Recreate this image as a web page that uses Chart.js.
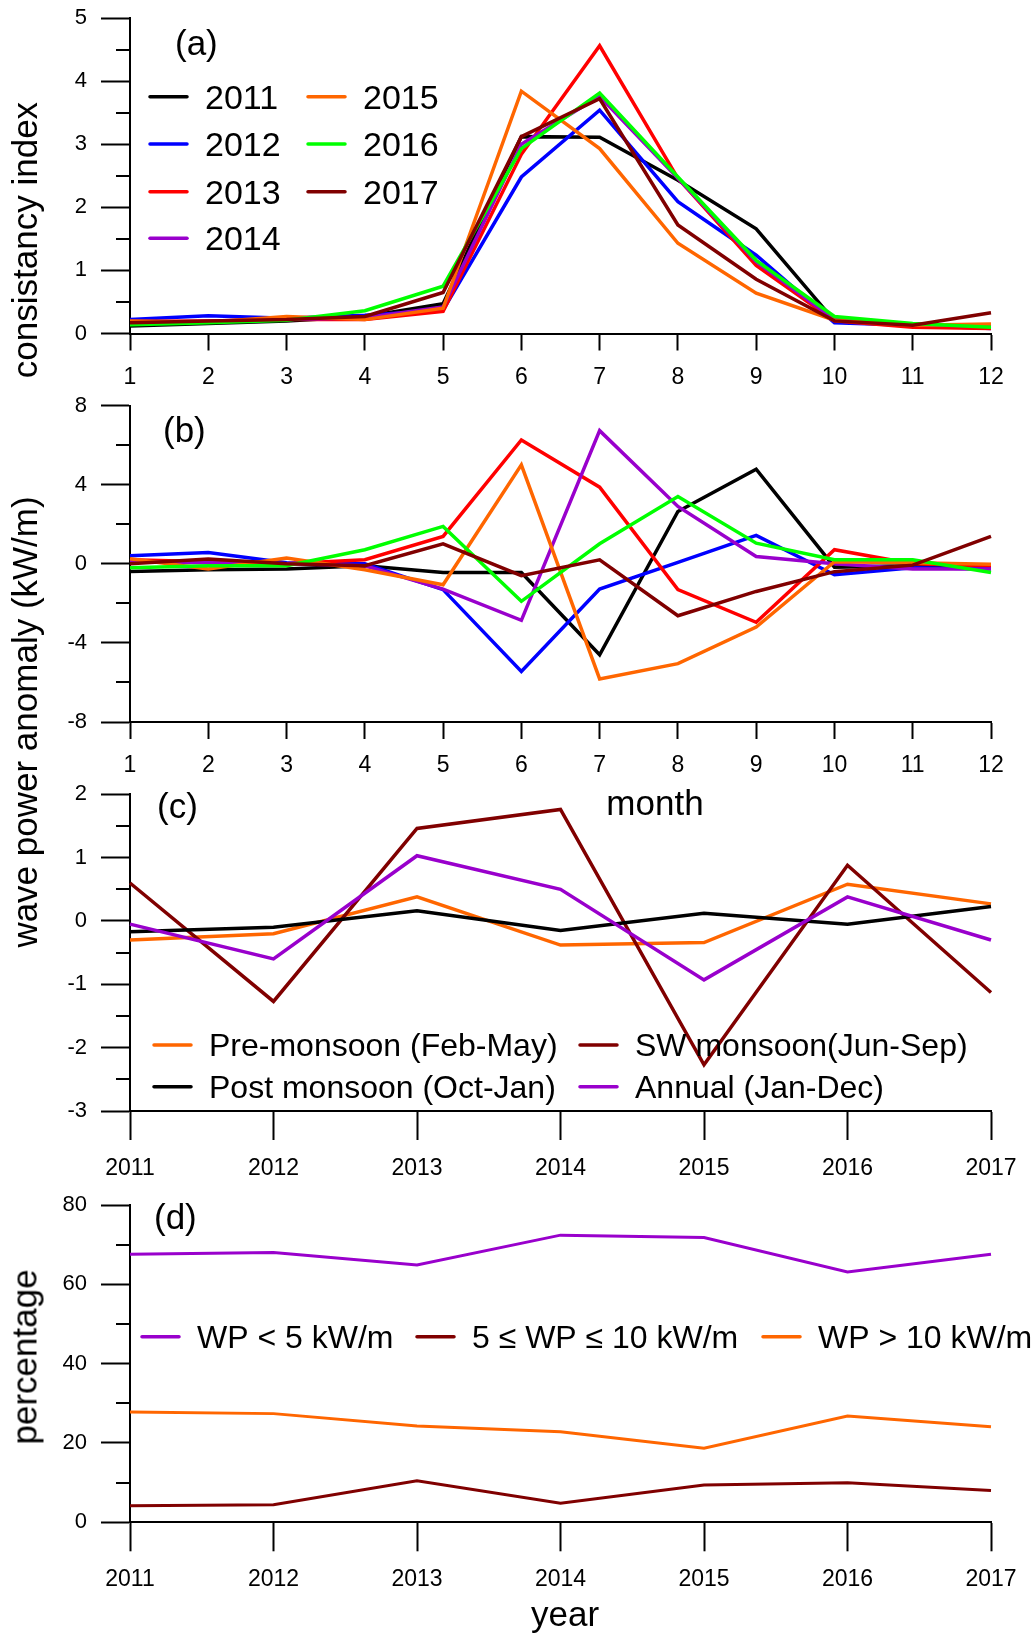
<!DOCTYPE html>
<html>
<head>
<meta charset="utf-8">
<title>Consistency index and wave power anomaly</title>
<script src="https://cdn.jsdelivr.net/npm/chart.js@4.4.1/dist/chart.umd.min.js"></script>
<style>
    body { margin: 0; background: #fff; }
    #page { position: relative; width: 1036px; height: 1635px; overflow: hidden; font-family: 'Liberation Sans', Arial, sans-serif; }
    #page canvas { position: absolute; left: 0; }
    .axis-title { position: absolute; font-size: 35px; line-height: 1; white-space: nowrap; color: #000; }
    .axis-title.vertical { transform: translate(-50%, -50%) rotate(-90deg); }
    .axis-title.centered { transform: translateX(-50%); }
</style>
</head>
<body>
<div id="page">
    <canvas id="panelA" width="1036" height="400"></canvas>
    <canvas id="panelB" width="1036" height="390"></canvas>
    <canvas id="panelC" width="1036" height="400"></canvas>
    <canvas id="panelD" width="1036" height="450"></canvas>
    <div class="axis-title vertical" style="left:24px; top:240px;">consistancy index</div>
    <div class="axis-title vertical" style="left:24px; top:722px;">wave power anomaly (kW/m)</div>
    <div class="axis-title vertical" style="left:24px; top:1357px;">percentage</div>
    <div class="axis-title centered" style="left:655px; top:785px;">month</div>
    <div class="axis-title centered" style="left:565px; top:1596px;">year</div>
</div>
<script>
// tick labels
const months = ['1', '2', '3', '4', '5', '6', '7', '8', '9', '10', '11', '12'];
const years = ['2011', '2012', '2013', '2014', '2015', '2016', '2017'];

// (a) consistancy index per month
const ci2011 = [0.12, 0.16, 0.20, 0.27, 0.47, 3.12, 3.11, 2.43, 1.66, 0.20, 0.12, 0.10];
const ci2012 = [0.22, 0.28, 0.24, 0.29, 0.37, 2.48, 3.54, 2.09, 1.24, 0.17, 0.13, 0.08];
const ci2013 = [0.19, 0.20, 0.22, 0.22, 0.35, 2.84, 4.56, 2.46, 1.08, 0.20, 0.10, 0.08];
const ci2014 = [0.17, 0.19, 0.22, 0.25, 0.42, 3.00, 3.76, 2.46, 1.14, 0.22, 0.14, 0.12];
const ci2015 = [0.20, 0.18, 0.27, 0.22, 0.40, 3.84, 2.93, 1.43, 0.64, 0.21, 0.13, 0.15];
const ci2016 = [0.14, 0.17, 0.21, 0.36, 0.75, 2.93, 3.81, 2.48, 1.16, 0.27, 0.16, 0.10];
const ci2017 = [0.17, 0.20, 0.22, 0.27, 0.65, 3.12, 3.72, 1.72, 0.86, 0.20, 0.13, 0.33];

// (b) monthly wave power anomaly (kW/m)
const wa2011 = [-0.39, -0.30, -0.27, -0.10, -0.44, -0.44, -4.60, 2.64, 4.78, -0.17, -0.10, -0.20];
const wa2012 = [0.40, 0.57, 0.05, 0.00, -1.31, -5.44, -1.28, 0.07, 1.43, -0.56, -0.20, -0.25];
const wa2013 = [0.20, 0.10, 0.00, 0.20, 1.38, 6.26, 3.87, -1.31, -2.96, 0.71, 0.00, -0.10];
const wa2014 = [0.10, 0.05, 0.00, -0.10, -1.28, -2.86, 6.73, 2.90, 0.37, 0.00, -0.27, -0.27];
const wa2015 = [0.25, -0.27, 0.29, -0.30, -1.06, 5.00, -5.82, -5.05, -3.20, 0.10, 0.05, -0.03];
const wa2016 = [-0.20, -0.10, -0.10, 0.71, 1.89, -1.90, 1.01, 3.40, 1.04, 0.20, 0.20, -0.44];
const wa2017 = [0.00, 0.24, 0.00, -0.10, 1.01, -0.60, 0.20, -2.63, -1.40, -0.40, -0.07, 1.38];

// (c) seasonal wave power anomaly (kW/m)
const preMonsoon = [-0.30, -0.20, 0.38, -0.38, -0.34, 0.58, 0.27];
const swMonsoon = [0.60, -1.27, 1.46, 1.76, -2.27, 0.88, -1.13];
const postMonsoon = [-0.17, -0.10, 0.16, -0.15, 0.12, -0.05, 0.23];
const annual = [-0.05, -0.60, 1.03, 0.50, -0.93, 0.38, -0.30];

// (d) percentage of time per wave power class
const wpLow = [67.6, 68.0, 64.9, 72.4, 71.8, 63.1, 67.6];
const wpMid = [4.2, 4.4, 10.5, 4.8, 9.4, 10.0, 8.0];
const wpHigh = [27.8, 27.4, 24.3, 22.8, 18.7, 26.8, 24.1];

const BLACK = '#000000', BLUE = '#0000ff', RED = '#ff0000', PURPLE = '#9900cc';
const ORANGE = '#ff6600', GREEN = '#00ff00', MAROON = '#800000';

Chart.defaults.font.family = "'Liberation Sans', Arial, sans-serif";
Chart.defaults.color = '#000';

const AREA_LEFT = 130;
const AREA_RIGHT = 991;
const PAGE_WIDTH = 1036;

// minor y ticks, panel letter and the legend, drawn over each chart
const panelDecor = {
    id: 'panelDecor',
    afterDraw(chart, args, opts) {
        const ctx = chart.ctx;
        const yScale = chart.scales.y;
        const area = chart.chartArea;
        const major = yScale.options.ticks.stepSize;
        ctx.save();
        ctx.strokeStyle = '#000';
        ctx.lineWidth = 2;
        for (let v = yScale.min + major / 2; v < yScale.max; v += major) {
            const py = Math.round(yScale.getPixelForValue(v));
            ctx.beginPath();
            ctx.moveTo(area.left - 14, py);
            ctx.lineTo(area.left, py);
            ctx.stroke();
        }

        ctx.fillStyle = '#000';
        ctx.textAlign = 'left';
        ctx.textBaseline = 'alphabetic';
        ctx.font = "35px 'Liberation Sans', Arial, sans-serif";
        ctx.fillText(opts.letter, opts.letterX, opts.letterY - opts.offsetY + 9);

        ctx.font = opts.legendSize + "px 'Liberation Sans', Arial, sans-serif";
        ctx.lineCap = 'round';
        chart.data.datasets.forEach((ds, i) => {
            const pos = opts.legend[i];
            if (!pos) return;
            const y = pos.y - opts.offsetY;
            ctx.strokeStyle = ds.borderColor;
            ctx.lineWidth = 3.5;
            ctx.beginPath();
            ctx.moveTo(pos.x + 2, y);
            ctx.lineTo(pos.x + 39, y);
            ctx.stroke();
            ctx.fillText(ds.label, pos.x + 57, y + opts.legendSize * 0.358);
        });
        ctx.restore();
    }
};

function makePanel(p, labels, series, yOpts, decor) {
    const canvas = document.getElementById(p.id);
    canvas.style.top = p.top + 'px';
    decor.offsetY = p.top;
    return new Chart(canvas, {
        type: 'line',
        data: {
            labels: labels,
            datasets: series.map((s, i) => ({
                label: s.label,
                data: s.data,
                borderColor: s.color,
                backgroundColor: s.color,
                borderWidth: p.lineWidth,
                pointRadius: 0,
                tension: 0,
                fill: false,
                order: series.length - i
            }))
        },
        options: {
            responsive: false,
            animation: false,
            events: [],
            layout: { padding: { top: p.areaTop - p.top, right: PAGE_WIDTH - AREA_RIGHT, bottom: 0, left: 0 } },
            plugins: {
                legend: { display: false },
                tooltip: { enabled: false },
                panelDecor: decor
            },
            scales: {
                x: {
                    grid: { drawOnChartArea: false, tickLength: p.xTick, tickWidth: 2, tickColor: '#000' },
                    border: { display: true, color: '#000', width: 2 },
                    ticks: { font: { size: 23 }, padding: p.xPad, maxRotation: 0, autoSkip: false },
                    afterFit: s => {
                        s.height = p.height - (p.areaBottom - p.top);
                        s.paddingLeft = 0;
                        s.paddingRight = 0;
                    }
                },
                y: {
                    min: yOpts.min,
                    max: yOpts.max,
                    grid: { drawOnChartArea: false, tickLength: 29, tickWidth: 2, tickColor: '#000' },
                    border: { display: true, color: '#000', width: 2 },
                    ticks: { stepSize: yOpts.step, font: { size: 22 }, padding: 14 },
                    afterFit: s => {
                        s.width = AREA_LEFT;
                        s.paddingTop = 0;
                        s.paddingBottom = 0;
                    }
                }
            }
        },
        plugins: [panelDecor]
    });
}

document.addEventListener('DOMContentLoaded', function() {
    // (a)
    makePanel(
        { id: 'panelA', top: 0, height: 400, areaTop: 18, areaBottom: 333.5, xTick: 17, xPad: 13, lineWidth: 3.5 },
        months,
        [
            { label: '2011', data: ci2011, color: BLACK },
            { label: '2012', data: ci2012, color: BLUE },
            { label: '2013', data: ci2013, color: RED },
            { label: '2014', data: ci2014, color: PURPLE },
            { label: '2015', data: ci2015, color: ORANGE },
            { label: '2016', data: ci2016, color: GREEN },
            { label: '2017', data: ci2017, color: MAROON }
        ],
        { min: 0, max: 5, step: 1 },
        {
            letter: '(a)', letterX: 175, letterY: 46, legendSize: 34,
            legend: [
                { x: 148, y: 96.7 }, { x: 148, y: 144 }, { x: 148, y: 191.7 }, { x: 148, y: 238.3 },
                { x: 306, y: 96.7 }, { x: 306, y: 144 }, { x: 306, y: 191.7 }
            ]
        }
    );

    // (b)
    makePanel(
        { id: 'panelB', top: 390, height: 390, areaTop: 405.5, areaBottom: 722, xTick: 17, xPad: 13, lineWidth: 3.5 },
        months,
        [
            { label: '2011', data: wa2011, color: BLACK },
            { label: '2012', data: wa2012, color: BLUE },
            { label: '2013', data: wa2013, color: RED },
            { label: '2014', data: wa2014, color: PURPLE },
            { label: '2015', data: wa2015, color: ORANGE },
            { label: '2016', data: wa2016, color: GREEN },
            { label: '2017', data: wa2017, color: MAROON }
        ],
        { min: -8, max: 8, step: 4 },
        { letter: '(b)', letterX: 163, letterY: 433, legendSize: 34, legend: [] }
    );

    // (c)
    makePanel(
        { id: 'panelC', top: 780, height: 400, areaTop: 794.3, areaBottom: 1111, xTick: 29, xPad: 15, lineWidth: 3.5 },
        years,
        [
            { label: 'Pre-monsoon (Feb-May)', data: preMonsoon, color: ORANGE },
            { label: 'SW monsoon(Jun-Sep)', data: swMonsoon, color: MAROON },
            { label: 'Post monsoon (Oct-Jan)', data: postMonsoon, color: BLACK },
            { label: 'Annual (Jan-Dec)', data: annual, color: PURPLE }
        ],
        { min: -3, max: 2, step: 1 },
        {
            letter: '(c)', letterX: 157, letterY: 809, legendSize: 32,
            legend: [
                { x: 152, y: 1045 }, { x: 578, y: 1045 },
                { x: 152, y: 1086.7 }, { x: 578, y: 1086.7 }
            ]
        }
    );

    // (d)
    makePanel(
        { id: 'panelD', top: 1185, height: 450, areaTop: 1205, areaBottom: 1522.3, xTick: 29, xPad: 15, lineWidth: 3 },
        years,
        [
            { label: 'WP < 5 kW/m', data: wpLow, color: PURPLE },
            { label: '5 \u2264 WP \u2264 10 kW/m', data: wpMid, color: MAROON },
            { label: 'WP > 10 kW/m', data: wpHigh, color: ORANGE }
        ],
        { min: 0, max: 80, step: 20 },
        {
            letter: '(d)', letterX: 154, letterY: 1220, legendSize: 32,
            legend: [ { x: 140, y: 1336.7 }, { x: 415, y: 1336.7 }, { x: 761, y: 1336.7 } ]
        }
    );
});
</script>
</body>
</html>
